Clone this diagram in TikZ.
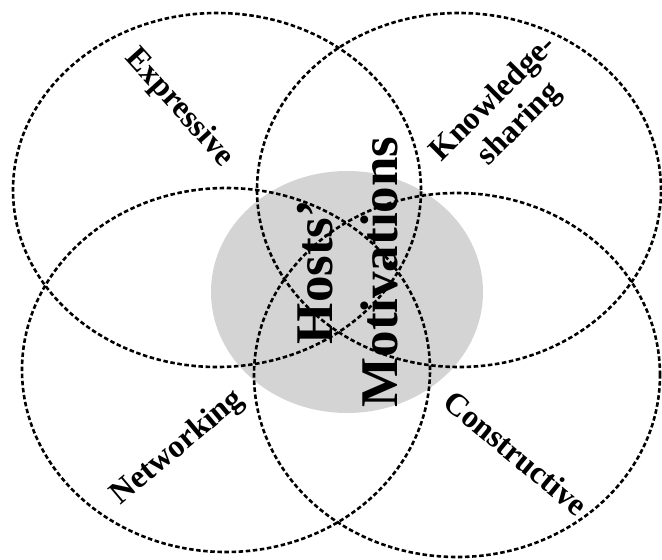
\documentclass[tikz,border=0pt]{standalone}
\usepackage{fontspec}
\setmainfont{Liberation Serif}
\usepackage{tikz}

\tikzset{
  ring/.style={draw=black, line width=2.6pt, dash pattern=on 4.5pt off 2.6pt},
  motive/.style={font=\fontsize{32}{36}\selectfont\bfseries, align=center, inner sep=0pt},
  hub/.style={font=\fontsize{53}{65}\selectfont\bfseries, align=center, inner sep=0pt},
}

\begin{document}
\begin{tikzpicture}[x=1pt, y=-1pt]
% Coordinate model: pixels of the 662 x 560 page, y running downwards.
\def\rx{204pt} % horizontal radius of a ring
\def\ryt{177pt}% vertical radius, upper rings
\def\ryb{182pt}% vertical radius, lower rings
\useasboundingbox (0,0) rectangle (662,560);

% --- Grey core behind everything ---
\fill[black!17] (347,292) ellipse [x radius=136pt, y radius=121pt];

% --- The four dashed rings ---
\draw[ring] (217,190) ellipse [x radius=\rx, y radius=\ryt];
\draw[ring] (459,190) ellipse [x radius=202pt, y radius=\ryt];
\draw[ring] (226,370) ellipse [x radius=\rx, y radius=\ryb];
\draw[ring] (457,375) ellipse [x radius=203pt, y radius=\ryb];

% --- Ring labels ---
\node[motive, rotate=-48]   (expressive)   at (179,108) {Expressive};
\node[motive, rotate=45]    (knowledge)    at (507,112) {Knowledge-\\sharing};
\node[motive, rotate=40]    (networking)   at (178,448) {Networking};
\node[motive, rotate=-39.5] (constructive) at (516,453) {Constructive};

% --- Core label ---
\node[hub, rotate=90] (hosts) at (348,272) {Hosts'\\Motivations};
\end{tikzpicture}
\end{document}
